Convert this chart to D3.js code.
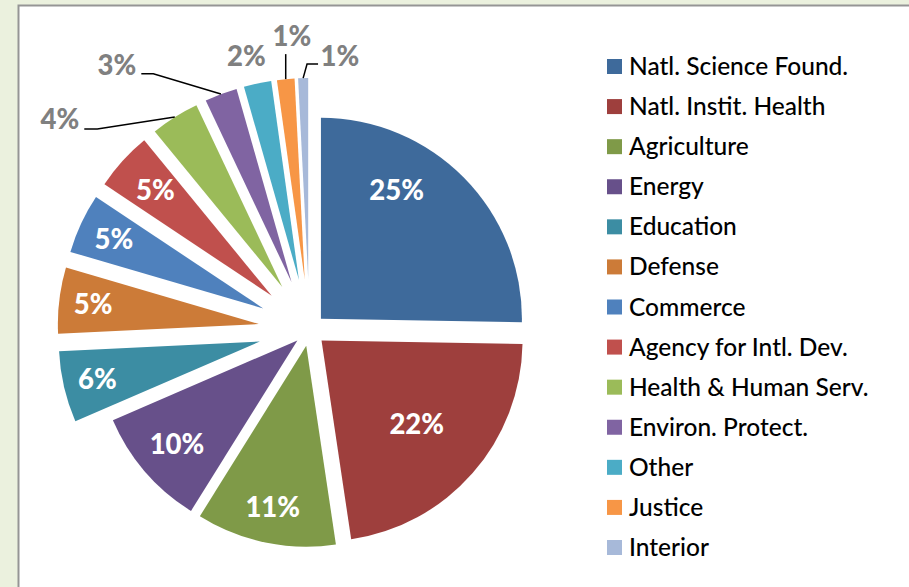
<!DOCTYPE html>
<html>
<head>
<meta charset="utf-8">
<script src="https://cdn.jsdelivr.net/npm/d3@7/dist/d3.min.js"></script>
<style>
  html, body { margin: 0; padding: 0; background: #ebf1de; }
  svg { display: block; }
</style>
</head>
<body>
<svg id="chart" width="909" height="587"></svg>
<script>
// ---- data ----
const categories = [
  "Natl. Science Found.", "Natl. Instit. Health", "Agriculture", "Energy",
  "Education", "Defense", "Commerce", "Agency for Intl. Dev.",
  "Health & Human Serv.", "Environ. Protect.", "Other", "Justice", "Interior"
];
const values = [25.2, 22.3, 11.2, 9.6, 5.7, 5.3, 4.8, 4.7, 3.9, 2.6, 2.2, 1.4, 0.8];
const colors = [
  "#3e6a9b", "#9e3f3d", "#7f9a48", "#67508a", "#3c8da3", "#cc7b38",
  "#4f81bd", "#c0504d", "#9bbb59", "#8064a2", "#4bacc6", "#f79646", "#a7b9d9"
];

// ---- layout config ----
const W = 909, H = 587;
const cx = 309.5, cy = 330, R = 201;
const explode = [16, 16, 16, 16, 51, 51, 51, 51, 51, 51, 51, 51, 51];
// inside labels: radial fraction from apex and angle shift (deg)
const insideLabel = {
  0: {f: 0.743, shift: -15},
  1: {f: 0.63, shift: 0},
  2: {f: 0.82, shift: 0},
  3: {f: 0.79, shift: 0},
  4: {f: 0.83, shift: 0},
  5: {f: 0.83, shift: 0},
  6: {f: 0.82, shift: 0},
  7: {f: 0.78, shift: 0}
};
// outside labels: anchor offset from slice outer midpoint, text-anchor, leader points (relative to anchor)
const outsideLabel = {
  8:  {dx: -95.5, dy: 11.9, anchor: "end",    leader: [[18, 0], [5, 0]]},
  9:  {dx: -84.6, dy: -19.4, anchor: "end",   leader: [[17, -1], [5, -1]]},
  10: {dx: -11,   dy: -17.8, anchor: "middle", leader: null},
  11: {dx: 6.2,   dy: -33,  anchor: "middle", leader: "vertical"},
  12: {dx: 17.3,  dy: -12.3, anchor: "start", leader: [[-13.4, -1.7], [-2.4, -1.7]]}
};

const svg = d3.select("#chart");

// chart area
svg.append("rect")
  .attr("x", 18.5).attr("y", 5.5)
  .attr("width", W + 20).attr("height", H + 20)
  .attr("fill", "#ffffff")
  .attr("stroke", "#959595")
  .attr("stroke-width", 2);

const total = d3.sum(values);
const pie = d3.pie().sort(null).value(d => d)(values);
const arc = d3.arc().innerRadius(0).outerRadius(R);

const dir = a => [Math.sin(a), -Math.cos(a)];

const slices = pie.map((p, i) => {
  const mid = (p.startAngle + p.endAngle) / 2;
  const [ux, uy] = dir(mid);
  const ax = cx + explode[i] * ux, ay = cy + explode[i] * uy;
  return {p, i, mid, ax, ay, ox: ax + R * ux, oy: ay + R * uy};
});

const g = svg.append("g");
g.selectAll("path.slice")
  .data(slices)
  .join("path")
  .attr("class", "slice")
  .attr("transform", d => `translate(${d.ax},${d.ay})`)
  .attr("d", d => arc(d.p))
  .attr("fill", d => colors[d.i]);

const pct = v => Math.round(v / total * 100) + "%";
const labelFont = "Lato, 'Open Sans', sans-serif";

// inside labels
slices.filter(d => insideLabel[d.i]).forEach(d => {
  const cfg = insideLabel[d.i];
  const a = d.mid + cfg.shift * Math.PI / 180;
  const [ux, uy] = dir(a);
  svg.append("text")
    .attr("x", d.ax + cfg.f * R * ux)
    .attr("y", d.ay + cfg.f * R * uy)
    .attr("dy", "0.36em")
    .attr("text-anchor", "middle")
    .attr("font-family", labelFont)
    .attr("font-weight", 900)
    .attr("font-size", 27.5)
    .attr("fill", "#ffffff")
    .text(pct(values[d.i]));
});

// outside labels
slices.filter(d => outsideLabel[d.i]).forEach(d => {
  const cfg = outsideLabel[d.i];
  const lx = d.ox + cfg.dx, ly = d.oy + cfg.dy;
  if (cfg.leader) {
    let pts;
    if (cfg.leader === "vertical") {
      pts = [[d.ox, d.oy], [d.ox, ly + 8]];
    } else {
      pts = [[d.ox, d.oy]].concat(cfg.leader.map(q => [lx + q[0], ly + q[1]]));
    }
    svg.append("path")
      .attr("d", d3.line()(pts))
      .attr("fill", "none")
      .attr("stroke", "#000")
      .attr("stroke-width", 1.5);
  }
  svg.append("text")
    .attr("x", lx).attr("y", ly)
    .attr("text-anchor", cfg.anchor)
    .attr("font-family", labelFont)
    .attr("font-weight", 900)
    .attr("font-size", 27.5)
    .attr("fill", "#808080")
    .text(pct(values[d.i]));
});

// legend
const legend = svg.append("g");
const rowY = d3.scalePoint().domain(d3.range(categories.length)).range([66.5, 547.5]);
const rows = legend.selectAll("g.row")
  .data(categories)
  .join("g")
  .attr("class", "row")
  .attr("transform", (d, i) => `translate(0,${rowY(i)})`);
rows.append("rect")
  .attr("x", 607).attr("y", -7.5)
  .attr("width", 15).attr("height", 15)
  .attr("fill", (d, i) => colors[i]);
rows.append("text")
  .attr("x", 629).attr("y", 8.5)
  .attr("font-family", labelFont)
  .attr("font-weight", 500)
  .attr("font-size", 24.5)
  .attr("fill", "#000")
  .text(d => d);
</script>
</body>
</html>
